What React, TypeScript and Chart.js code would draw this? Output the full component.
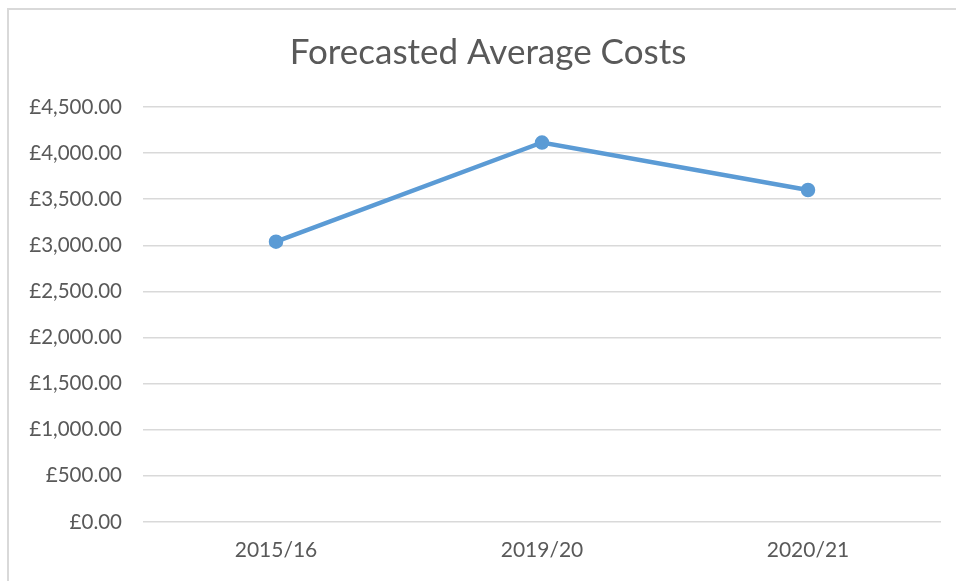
import React, { useEffect, useRef } from "react";
import { Chart, registerables } from "chart.js";

Chart.register(...registerables);

const categories = ["2015/16", "2019/20", "2020/21"];
const averageCosts = [3040, 4115, 3600];
const yMin = 0;
const yMax = 4500;
const yStep = 500;
const titleText = "Forecasted Average Costs";

const fmt = (v: number) =>
  "£" + v.toLocaleString("en-GB", { minimumFractionDigits: 2, maximumFractionDigits: 2 });

export default function App() {
  const ref = useRef<HTMLCanvasElement | null>(null);
  useEffect(() => {
    if (!ref.current) return;
    const font = "Lato, 'Open Sans', sans-serif";
    const chart = new Chart(ref.current, {
      type: "line",
      data: {
        labels: categories,
        datasets: [
          {
            label: "Average Cost",
            data: averageCosts,
            yAxisID: "y",
            borderColor: "#5B9BD5",
            backgroundColor: "#5B9BD5",
            borderWidth: 4.5,
            pointRadius: 5,
            pointBackgroundColor: "#5B9BD5",
            pointBorderColor: "#5B9BD5",
            tension: 0,
          },
        ],
      },
      options: {
        responsive: false,
        animation: false,
        layout: { padding: { left: 20, right: 0, top: 0, bottom: 0 } },
        plugins: {
          legend: { display: false },
          tooltip: { enabled: false },
          title: {
            display: true,
            text: titleText,
            color: "#595959",
            font: { family: font, size: 35, weight: "normal", lineHeight: 1.2 },
            padding: { top: 32, bottom: 33 },
          },
        },
        scales: {
          x: {
            offset: true,
            grid: { display: false, drawTicks: false },
            border: { display: false },
            ticks: {
              color: "#595959",
              font: { family: font, size: 21 },
              padding: 16,
              maxRotation: 0,
            },
            afterFit: (s: any) => {
              s.height = 59;
            },
          },
          y: {
            min: yMin,
            max: yMax,
            position: "left",
            ticks: {
              stepSize: yStep,
              color: "#595959",
              font: { family: font, size: 20.5 },
              padding: 21,
              callback: (v: any) => fmt(Number(v)),
            },
            grid: { color: "#D9D9D9", lineWidth: 1.5, drawTicks: false },
            border: { display: false },
            afterFit: (s: any) => {
              s.width = 123;
            },
          },
          yRight: {
            type: "linear",
            position: "right",
            display: true,
            grid: { display: false, drawTicks: false },
            border: { display: false },
            ticks: { display: false },
            afterFit: (s: any) => {
              s.width = 15;
            },
          },
        },
      },
    } as any);
    return () => chart.destroy();
  }, []);
  return (
    <div style={{ position: "fixed", left: 0, top: 0, width: 956, height: 581, background: "#fff", overflow: "hidden" }}>
      <canvas ref={ref} width={956} height={581} style={{ position: "absolute", left: 0, top: 0 }} />
      <div
        style={{
          position: "absolute",
          left: 7,
          top: 8,
          width: 1000,
          height: 620,
          border: "2px solid #D9D9D9",
          pointerEvents: "none",
        }}
      />
    </div>
  );
}
